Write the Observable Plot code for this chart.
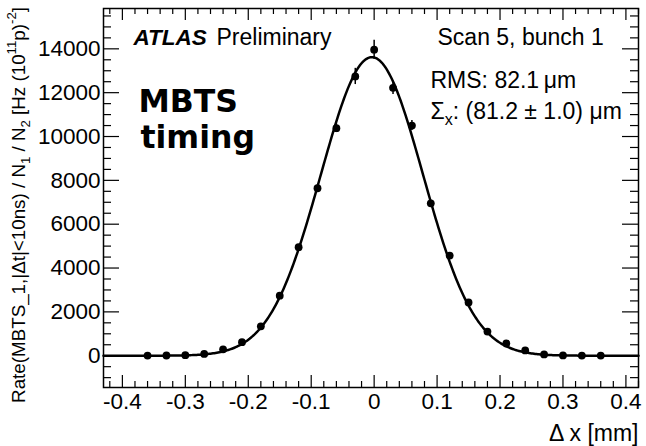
<!DOCTYPE html>
<html><head><meta charset="utf-8">
<script src="https://cdn.jsdelivr.net/npm/d3@7"></script>
<script src="https://cdn.jsdelivr.net/npm/@observablehq/plot@0.6"></script>
<style>body{margin:0;background:#fff}</style>
</head><body><div id="chart"></div>
<script>
// ---- data ----
const deltaX = [-0.36,-0.33,-0.30,-0.27,-0.24,-0.21,-0.18,-0.15,-0.12,-0.09,-0.06,-0.03,0,0.03,0.06,0.09,0.12,0.15,0.18,0.21,0.24,0.27,0.30,0.33,0.36];
const rate = [5,10,25,80,290,620,1340,2740,4950,7640,10380,12740,13960,12220,10500,6950,4570,2430,1100,560,240,60,15,5,5];
const rateErr = [20,20,25,30,40,50,70,90,110,140,200,370,430,300,230,140,100,80,60,40,30,25,20,20,20];
// Gaussian fit parameters (Σx = 81.2 µm)
const fitAmplitude = 13620;
const fitMean = -0.0035;
const fitSigma = 0.0812;
// axis ticks
const xMajorTicks = [-0.4,-0.3,-0.2,-0.1,0,0.1,0.2,0.3,0.4];
const xMinorTicks = [-0.42,-0.38,-0.36,-0.34,-0.32,-0.28,-0.26,-0.24,-0.22,-0.18,-0.16,-0.14,-0.12,-0.08,-0.06,-0.04,-0.02,0.02,0.04,0.06,0.08,0.12,0.14,0.16,0.18,0.22,0.24,0.26,0.28,0.32,0.34,0.36,0.38,0.42];
const yMajorTicks = [0,2000,4000,6000,8000,10000,12000,14000];
const yMinorTicks = [-1000,-500,500,1000,1500,2500,3000,3500,4500,5000,5500,6500,7000,7500,8500,9000,9500,10500,11000,11500,12500,13000,13500,14500,15000,15500];
const xLabel = "Δ x [mm]";
const yLabel = "Y_LABEL";
const atlasText = "ATLAS";
const prelimText = "Preliminary";
const scanText = "Scan 5, bunch 1";
const rmsText = "RMS: 82.1\u2009μm";
const sigmaText = "SIGMA_LABEL";
const mbtsText = "MBTS";
const timingText = "timing";

const points = deltaX.map((x, i) => ({x, y: rate[i], e: rateErr[i]}));
const fitCurve = d3.range(-0.43, 0.4201, 0.002).map(x => ({x, y: fitAmplitude * Math.exp(-((x - fitMean) ** 2) / (2 * fitSigma * fitSigma))}));

const W = 646, H = 446;
const mL = 103, mR = 8, mT = 8, mB = 59;
const fw = W - mL - mR, fh = H - mT - mB;
const font = "'Liberation Sans', Arial, Helvetica, sans-serif";

const svg = Plot.plot({
  width: W, height: H,
  marginLeft: mL, marginRight: mR, marginTop: mT, marginBottom: mB,
  style: {fontFamily: font, background: "white", color: "black"},
  x: {domain: [-0.43, 0.42]},
  y: {domain: [-1450, 15840]},
  marks: [
    // inside ticks (ROOT style)
    Plot.ruleX(xMinorTicks, {x: d => d, insetTop: fh - 6, strokeWidth: 1.2}),
    Plot.ruleX(xMinorTicks, {x: d => d, insetBottom: fh - 6, strokeWidth: 1.2}),
    Plot.ruleX(xMajorTicks, {x: d => d, insetTop: fh - 12, strokeWidth: 1.2}),
    Plot.ruleX(xMajorTicks, {x: d => d, insetBottom: fh - 12, strokeWidth: 1.2}),
    Plot.ruleY(yMinorTicks, {y: d => d, insetRight: fw - 8, strokeWidth: 1.2}),
    Plot.ruleY(yMinorTicks, {y: d => d, insetLeft: fw - 8, strokeWidth: 1.2}),
    Plot.ruleY(yMajorTicks, {y: d => d, insetRight: fw - 16, strokeWidth: 1.2}),
    Plot.ruleY(yMajorTicks, {y: d => d, insetLeft: fw - 16, strokeWidth: 1.2}),
    Plot.axisX({ticks: xMajorTicks, tickSize: 0, tickPadding: 6, fontSize: 22.5, label: null,
      tickFormat: d => d === 0 ? "0" : d.toFixed(1)}),
    Plot.axisY({ticks: yMajorTicks, tickSize: 0, tickPadding: 3, fontSize: 22.5, label: null,
      tickFormat: d => String(d)}),
    Plot.frame({stroke: "black", strokeWidth: 1.5}),
    Plot.line(fitCurve, {x: "x", y: "y", stroke: "black", strokeWidth: 2.5}),
    Plot.ruleX(points, {x: "x", y1: d => d.y - d.e, y2: d => d.y + d.e, stroke: "black", strokeWidth: 1.5}),
    Plot.dot(points, {x: "x", y: "y", r: 3.9, fill: "black", stroke: "none"}),
    // texts
    Plot.text([xLabel], {text: d => d, frameAnchor: "bottom-right", dx: 0, dy: 53, textAnchor: "end", lineAnchor: "bottom", fontSize: 23}),
    Plot.text([yLabel], {text: d => d, frameAnchor: "left", dx: 18 - mL, dy: 7, rotate: -90, textAnchor: "middle", lineAnchor: "middle", fontSize: 18.8}),
    Plot.text([atlasText], {text: d => d, frameAnchor: "top-left", dx: 133 - mL, dy: 44 - mT, textAnchor: "start", lineAnchor: "bottom", fontSize: 22.5, fontWeight: "bold", fontStyle: "italic"}),
    Plot.text([prelimText], {text: d => d, frameAnchor: "top-left", dx: 216 - mL, dy: 44 - mT, textAnchor: "start", lineAnchor: "bottom", fontSize: 23}),
    Plot.text([scanText], {text: d => d, frameAnchor: "top-left", dx: 437 - mL, dy: 44 - mT, textAnchor: "start", lineAnchor: "bottom", fontSize: 23}),
    Plot.text([rmsText], {text: d => d, frameAnchor: "top-left", dx: 430 - mL, dy: 87 - mT, textAnchor: "start", lineAnchor: "bottom", fontSize: 23}),
    Plot.text([sigmaText], {text: d => d, frameAnchor: "top-left", dx: 430 - mL, dy: 118 - mT, textAnchor: "start", lineAnchor: "bottom", fontSize: 23}),
    Plot.text([mbtsText], {text: d => d, frameAnchor: "top-left", dx: 138 - mL, dy: 111 - mT, textAnchor: "start", lineAnchor: "bottom", fontSize: 31.5, fontWeight: "bold", fontFamily: "'DejaVu Sans', sans-serif"}),
    Plot.text([timingText], {text: d => d, frameAnchor: "top-left", dx: 140 - mL, dy: 147 - mT, textAnchor: "start", lineAnchor: "bottom", fontSize: 31.5, fontWeight: "bold", fontFamily: "'DejaVu Sans', sans-serif"})
  ]
});

// rich text (sub/superscripts) for two labels
function rich(el, parts, fs) {
  const t = d3.select(el);
  t.text(null);
  let shift = 0;
  parts.forEach(([s, kind]) => {
    const target = kind === "sub" ? fs * 0.3 : kind === "sup" ? -fs * 0.45 : 0;
    const ts = t.append("tspan").text(s).attr("dy", target - shift);
    if (kind) ts.attr("font-size", fs * 0.7);
    shift = target;
  });
}
d3.select(svg).selectAll("text").each(function() {
  if (this.textContent === "Y_LABEL") {
    rich(this, [["Rate(MBTS_1,|Δt|<10ns) / N"], ["1", "sub"], [" / N"], ["2", "sub"], [" [Hz (10"], ["11", "sup"], ["p)"], ["-2", "sup"], ["]"]], 18.8);
  } else if (this.textContent === "SIGMA_LABEL") {
    rich(this, [["Σ"], ["x", "sub"], [": (81.2 ± 1.0) μm"]], 23);
  }
});

document.getElementById("chart").appendChild(svg);
</script>
</body></html>
